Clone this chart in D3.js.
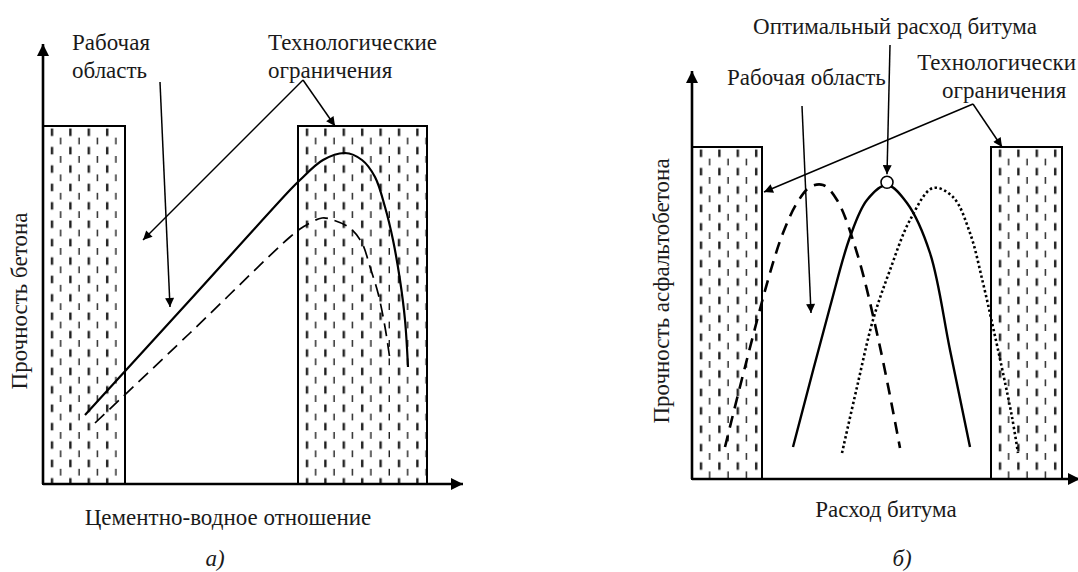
<!DOCTYPE html>
<html>
<head>
<meta charset="utf-8">
<script src="https://cdn.jsdelivr.net/npm/d3@7"></script>
<style>
  html, body { margin: 0; padding: 0; background: #fff; }
  svg { display: block; }
</style>
</head>
<body>
<svg id="chart" width="1078" height="572"></svg>
<script>
// ---------- Panel a) data (arbitrary units) ----------
const limitBoxesA = [[0, 20.5], [63.75, 96]];          // технологические ограничения (x-ranges)
const limitTopA = 89.5;
const strengthSolidA = [[10.5,17.25],[36.75,46],[61.75,73.5],[64.25,76],[70,81],[75.5,82.75],[79.75,81],[83,76.75],[85.5,69.25],[87.5,61],[89.25,51],[90.5,41],[91.25,29.25]];
const strengthDashedA = [[13,15.25],[36.75,37.75],[61.75,61.75],[65,64.25],[69.75,66.5],[72.5,66],[76.75,64],[79.75,60.25],[81.75,54.25],[83.75,47.75],[85.5,39.25],[86.75,31]];
const arrowsA = [
  [[29.25,100.5],[31.75,44.25]],
  [[65,101],[25,61]],
  [[65,101],[73,89.5]]
];
const labelsA = {title1: "Рабочая", title2: "область", tech1: "Технологические", tech2: "ограничения",
  xLabel: "Цементно-водное отношение", yLabel: "Прочность бетона", caption: "а)"};

// ---------- Panel б) data ----------
const limitBoxesB = [[0, 17.5], [74.75, 92.5]];
const limitTopB = 83;
const strengthSolidB = [[25.25,8],[34.5,43],[39.5,60.5],[43.75,69.75],[48.75,73.5],[53.75,69],[59.5,56.5],[64.5,32.25],[69.5,8]];
const strengthDashedB = [[8.25,8],[13.25,28],[19.5,51.5],[22.75,61.5],[26.25,69],[29.5,73],[32.75,73.5],[36.25,69.75],[41.25,56.5],[47,33],[52,7.75]];
const strengthDottedB = [[37.5,6.5],[41.25,23],[45.25,39.75],[49.5,52.25],[54.5,64.75],[60.25,72.75],[65.25,70.5],[69.5,61.5],[72.75,49],[75.25,38],[77.75,26.5],[80,15.5],[81.5,6.5]];
const optimumB = [48.75, 74.2];
const arrowsB = [
  [[49.5,108.5],[48.75,76.2]],
  [[27.5,93.25],[29.75,41.5]],
  [[70.25,93.75],[18.0,71.75]],
  [[70.25,93.75],[77.5,83]]
];
const labelsB = {opt: "Оптимальный расход битума", work: "Рабочая область", tech1: "Технологически", tech2: "ограничения",
  xLabel: "Расход битума", yLabel: "Прочность асфальтобетона", caption: "б)"};

// ---------- drawing ----------
const FONT = '"Liberation Serif", "Times New Roman", Tinos, serif';
const FS = 23;
const W = 1078;
const svg = d3.select("#chart");
const defs = svg.append("defs");

function arrowMarker(id, w, h) {
  defs.append("marker").attr("id", id)
    .attr("viewBox", "0 0 10 10").attr("refX", 10).attr("refY", 5)
    .attr("markerWidth", w).attr("markerHeight", h)
    .attr("markerUnits", "userSpaceOnUse").attr("orient", "auto")
    .append("path").attr("d", "M0,0 L10,5 L0,10 Z").attr("fill", "#000");
}
arrowMarker("axisHead", 14, 12);
arrowMarker("noteHead", 12, 9);

let patCount = 0;
function hatchPattern(x0, y0) {
  const id = "hatch" + (patCount++);
  const p = defs.append("pattern").attr("id", id).attr("patternUnits", "userSpaceOnUse")
    .attr("x", x0).attr("y", y0).attr("width", 18.4).attr("height", 18.4);
  p.append("line").attr("x1", 9).attr("x2", 9).attr("y1", 2.5).attr("y2", 10)
    .attr("stroke", "#1e1e1e").attr("stroke-width", 2.4);
  p.append("line").attr("x1", 18.2).attr("x2", 18.2).attr("y1", 11.7).attr("y2", 19.2)
    .attr("stroke", "#1e1e1e").attr("stroke-width", 2.4);
  return id;
}

function drawPanel(cfg) {
  const {xs, ys, boxes, top, curves, arrows, dot} = cfg;
  const g = svg.append("g");
  boxes.forEach(b => {
    const id = hatchPattern(xs(b[0]), ys(top));
    g.append("rect")
      .attr("x", xs(b[0])).attr("y", ys(top))
      .attr("width", xs(b[1]) - xs(b[0])).attr("height", ys(0) - ys(top))
      .attr("fill", "url(#" + id + ")")
      .attr("stroke", "#000").attr("stroke-width", 2);
  });
  curves.forEach(c => {
    const line = d3.line().x(d => xs(d[0])).y(d => ys(d[1])).curve(d3.curveCatmullRom.alpha(0.5));
    g.append("path").attr("d", line(c.data)).attr("fill", "none")
      .attr("stroke", "#000").attr("stroke-width", c.width)
      .attr("stroke-dasharray", c.dash || null)
      .attr("stroke-linecap", c.cap || "butt");
  });
  if (dot) {
    g.append("circle").attr("cx", xs(dot[0])).attr("cy", ys(dot[1])).attr("r", 6)
      .attr("fill", "#fff").attr("stroke", "#000").attr("stroke-width", 1.6);
  }
  const [x0, x1] = xs.domain(), [y0, y1] = ys.domain();
  g.append("line").attr("x1", xs(x0)).attr("y1", ys(y0)).attr("x2", xs(x0)).attr("y2", ys(y1))
    .attr("stroke", "#000").attr("stroke-width", 2.6).attr("marker-end", "url(#axisHead)");
  g.append("line").attr("x1", xs(x0)).attr("y1", ys(y0)).attr("x2", xs(x1)).attr("y2", ys(y0))
    .attr("stroke", "#000").attr("stroke-width", 2.6).attr("marker-end", "url(#axisHead)");
  arrows.forEach(a => {
    g.append("line").attr("x1", xs(a[0][0])).attr("y1", ys(a[0][1]))
      .attr("x2", xs(a[1][0])).attr("y2", ys(a[1][1]))
      .attr("stroke", "#000").attr("stroke-width", 1.5).attr("marker-end", "url(#noteHead)");
  });
  return g;
}

function label(g, x, y, txt, opts = {}) {
  const t = g.append("text").style("font-family", FONT).attr("font-size", opts.size || FS)
    .attr("fill", "#1a1a1a").attr("text-anchor", opts.anchor || "start").text(txt);
  if (opts.italic) t.style("font-style", "italic");
  if (opts.rotate) t.attr("transform", `translate(${x},${y}) rotate(-90)`);
  else {
    if ((opts.anchor || "start") === "start") {
      const len = t.node().getComputedTextLength();
      if (x + len > W - 2) x = W - 2 - len;
    }
    t.attr("x", x).attr("y", y);
  }
  return t;
}

// Panel a
const xA = d3.scaleLinear().domain([0, 105]).range([43, 463]);
const yA = d3.scaleLinear().domain([0, 110]).range([484, 44]);
const gA = drawPanel({
  xs: xA, ys: yA, boxes: limitBoxesA, top: limitTopA, arrows: arrowsA,
  curves: [
    {data: strengthSolidA, width: 2.2},
    {data: strengthDashedA, width: 1.7, dash: "13,7"}
  ]
});
label(gA, 72, 50, labelsA.title1);
label(gA, 72, 78, labelsA.title2);
label(gA, 268, 50, labelsA.tech1);
label(gA, 268, 78, labelsA.tech2);
label(gA, 228, 525, labelsA.xLabel, {anchor: "middle"});
label(gA, 27, 301, labelsA.yLabel, {anchor: "middle", rotate: true});
label(gA, 215, 566, labelsA.caption, {anchor: "middle", italic: true});

// Panel b
const xB = d3.scaleLinear().domain([0, 97]).range([692, 1080]);
const yB = d3.scaleLinear().domain([0, 102]).range([479, 71]);
const gB = drawPanel({
  xs: xB, ys: yB, boxes: limitBoxesB, top: limitTopB, arrows: arrowsB, dot: optimumB,
  curves: [
    {data: strengthDashedB, width: 2.6, dash: "12,8"},
    {data: strengthDottedB, width: 2.6, dash: "2.4,2.6"},
    {data: strengthSolidB, width: 2.4}
  ]
});
label(gB, 895, 34, labelsB.opt, {anchor: "middle"});
label(gB, 727, 85, labelsB.work);
label(gB, 922, 70, labelsB.tech1);
label(gB, 942, 98, labelsB.tech2);
label(gB, 886, 517, labelsB.xLabel, {anchor: "middle"});
label(gB, 669, 291, labelsB.yLabel, {anchor: "middle", rotate: true});
label(gB, 902, 566, labelsB.caption, {anchor: "middle", italic: true});
</script>
</body>
</html>
